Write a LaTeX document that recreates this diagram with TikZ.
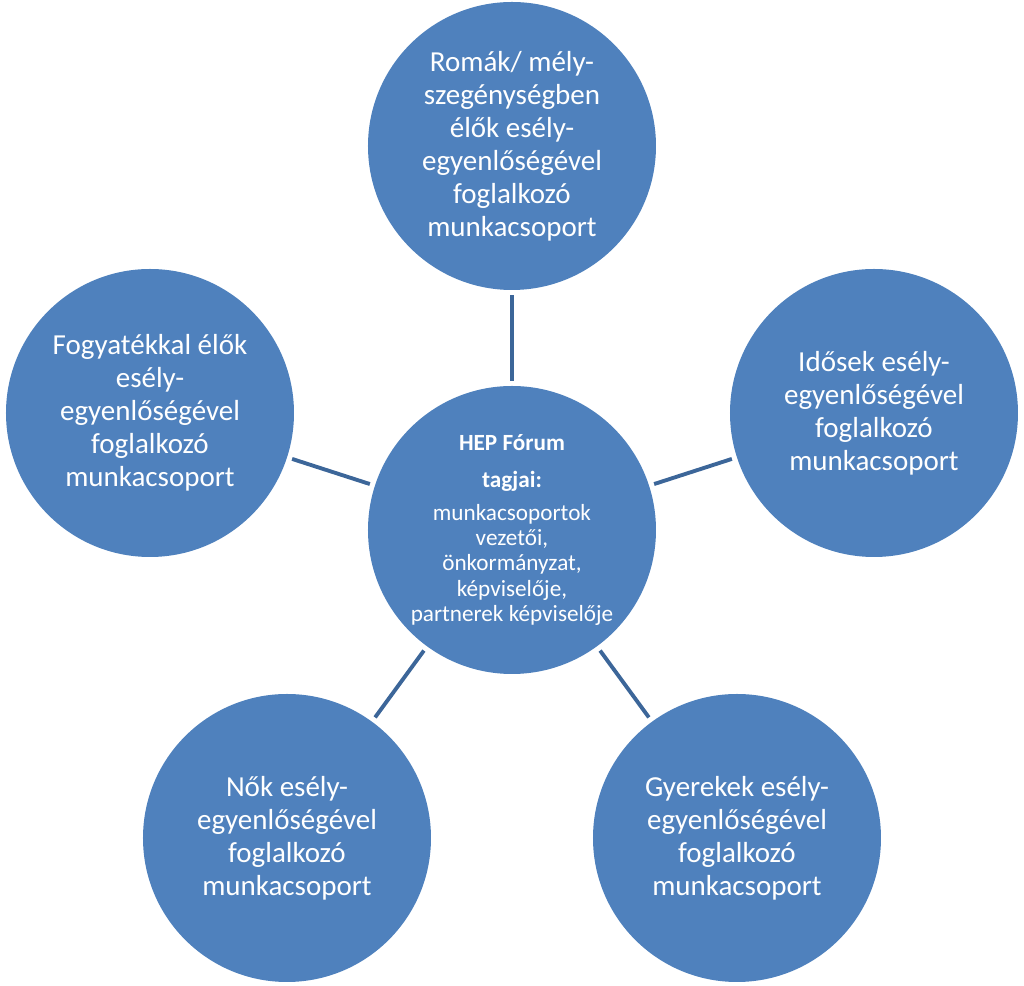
\documentclass[tikz,border=0pt]{standalone}
\usepackage{fontspec}
\setmainfont{Carlito}
\usepackage{xcolor}
\definecolor{hepBlue}{HTML}{4F81BD}
\definecolor{hepLine}{HTML}{3C6699}
\usepackage{tikz}
\usetikzlibrary{calc}

\begin{document}
\begin{tikzpicture}[
    grp/.style={circle, fill=hepBlue, minimum size=5.76cm, inner sep=0pt, align=center, text=white, font=\fontsize{16.5}{18.8}\selectfont},
    hub/.style={grp, font=\fontsize{13.2}{14.3}\selectfont},
    link/.style={line width=2.2pt, hepLine, shorten >=0.1cm, shorten <=0.1cm}
  ]
    \useasboundingbox (-10.24,-9.12) rectangle (10.24,10.6);
    \node[hub] (forum) at (0,0) {\textbf{HEP Fórum}\\[6.7pt] \textbf{tagjai:}\\[4.5pt] munkacsoportok\\ vezetői,\\ önkormányzat,\\ képviselője,\\ partnerek képviselője};
    \node[grp] (roma) at ($(forum.center)+(0,7.68cm)$) {Romák/ mély-\\ szegénységben\\ élők esély-\\ egyenlőségével\\ foglalkozó\\ munkacsoport};
    \node[grp] (fogy) at ($(forum.center)+(-7.24cm,2.34cm)$) {Fogyatékkal élők\\ esély-\\ egyenlőségével\\ foglalkozó\\ munkacsoport};
    \node[grp] (idos) at ($(forum.center)+(7.24cm,2.34cm)$) {Idősek esély-\\ egyenlőségével\\ foglalkozó\\ munkacsoport};
    \node[grp] (nok) at ($(forum.center)+(-4.5cm,-6.16cm)$) {Nők esély-\\ egyenlőségével\\ foglalkozó\\ munkacsoport};
    \node[grp] (gyer) at ($(forum.center)+(4.5cm,-6.16cm)$) {Gyerekek esély-\\ egyenlőségével\\ foglalkozó\\ munkacsoport};
    \draw[link] (forum) -- (roma);
    \draw[link] (forum) -- (fogy);
    \draw[link] (forum) -- (idos);
    \draw[link] (forum) -- (nok);
    \draw[link] (forum) -- (gyer);
  \end{tikzpicture}
\end{document}
